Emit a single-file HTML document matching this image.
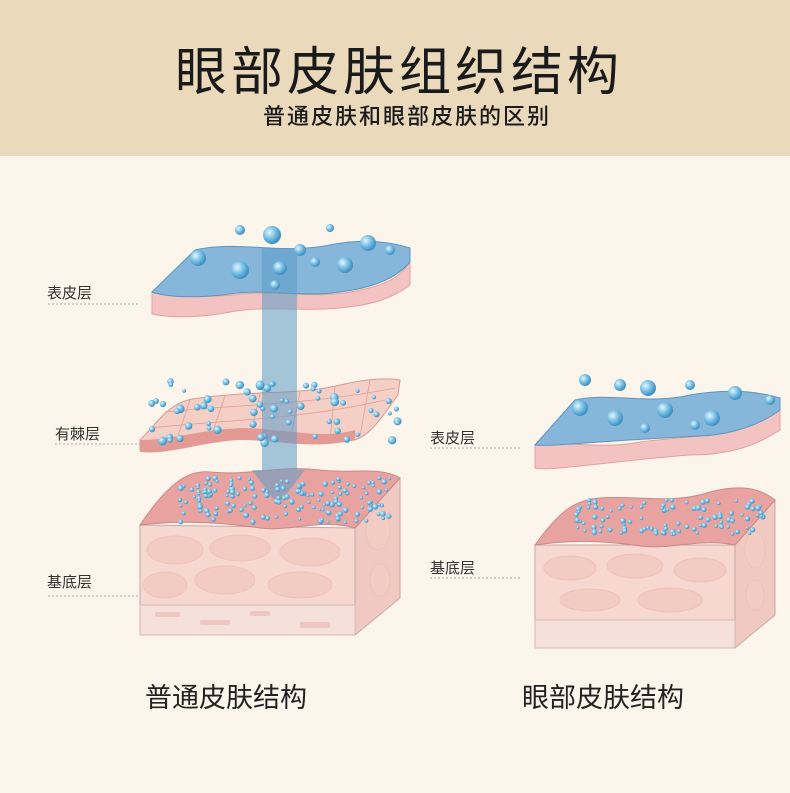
<!DOCTYPE html>
<html><head><meta charset="utf-8"><style>
body{margin:0;width:790px;height:793px;overflow:hidden;background:#fcf5ec;font-family:"Liberation Sans","Noto Sans CJK SC",sans-serif;}
.hdr{position:absolute;left:0;top:0;width:790px;height:156px;background:#ead9bb;}
.t{position:absolute;width:790px;text-align:center;color:#1a1a1a;}
.lb{position:absolute;font-size:15px;color:#333;}
</style></head><body>
<div class="hdr"></div>
<div class="t" style="top:30px;font-size:52px;letter-spacing:4px;left:4px;">眼部皮肤组织结构</div>
<div class="t" style="top:99px;font-size:22px;letter-spacing:2px;left:12px;font-weight:500;">普通皮肤和眼部皮肤的区别</div>
<svg id="s" width="790" height="793" style="position:absolute;left:0;top:0">
<defs>
<radialGradient id="b" cx="35%" cy="35%" r="65%"><stop offset="0" stop-color="#e6f6ff"/><stop offset="0.5" stop-color="#7cc3e6"/><stop offset="1" stop-color="#3f8fc2"/></radialGradient>
</defs>
<g stroke="#aaa" stroke-dasharray="2,2" stroke-width="1">
<line x1="48" y1="304" x2="140" y2="304"/><line x1="55" y1="444" x2="140" y2="444"/><line x1="48" y1="596" x2="140" y2="596"/>
<line x1="430" y1="448" x2="520" y2="448"/><line x1="430" y1="578" x2="520" y2="578"/>
</g>
<path d="M355,528 L400,478 L400,598 L355,635 Z" fill="#efc9c2" stroke="#c9a8a6"/>
<path d="M140,525 L140,635 L355,635 L355,528 Z" fill="#f7d8d0" stroke="#c9a8a6"/>
<g fill="#f2cbc3" stroke="#efc2ba">
<ellipse cx="175" cy="550" rx="28" ry="14"/><ellipse cx="240" cy="548" rx="30" ry="13"/><ellipse cx="310" cy="552" rx="30" ry="14"/>
<ellipse cx="165" cy="585" rx="22" ry="13"/><ellipse cx="225" cy="580" rx="30" ry="14"/><ellipse cx="300" cy="585" rx="32" ry="13"/>
<ellipse cx="378" cy="530" rx="12" ry="20"/><ellipse cx="380" cy="580" rx="10" ry="16"/>
</g>
<rect x="140" y="605" width="215" height="30" fill="#f5e0da" stroke="#d8b9b5"/>
<g fill="#eec7c0"><rect x="155" y="612" width="25" height="5" rx="2"/><rect x="200" y="620" width="30" height="5" rx="2"/><rect x="250" y="611" width="20" height="5" rx="2"/><rect x="300" y="622" width="30" height="6" rx="2"/></g>
<path d="M140,525 C170,480 190,470 210,472 C250,476 280,465 320,470 C350,474 380,466 400,478 L355,528 C320,518 290,532 260,528 C220,522 180,520 140,525 Z" fill="#e8a3a0" stroke="#c98a88"/>
<path d="M140,440 C160,420 170,400 200,398 C260,390 300,395 340,385 C370,378 390,378 400,380 L398,395 C380,420 370,435 355,440 C310,445 280,438 240,438 C200,440 170,452 140,450 Z" fill="#f4cfc6" stroke="#d99a92"/>
<g stroke="#e39e96" stroke-width="0.8" fill="none">
<path d="M150,428 C220,420 300,420 385,400"/><path d="M165,412 C230,405 310,405 395,388"/>
<path d="M190,400 L175,445"/><path d="M225,396 L210,440"/><path d="M260,394 L250,438"/><path d="M300,392 L290,440"/><path d="M335,386 L330,440"/><path d="M370,380 L360,436"/>
</g>
<path d="M140,440 C170,440 200,430 240,428 C280,428 320,440 355,430 L355,440 C310,450 280,440 240,440 C200,442 170,455 140,452 Z" fill="#e49a94"/>
<path d="M152,292 C170,290 200,300 240,294 C280,290 320,300 360,290 C385,285 400,278 410,262 L410,285 C390,300 370,305 340,308 C300,312 270,305 230,312 C200,318 170,318 152,314 Z" fill="#f2c3c0" stroke="#e3a1a0"/>
<path d="M152,292 L195,250 C240,240 280,255 330,245 C365,238 390,242 410,248 L410,262 C395,280 370,288 340,292 C300,298 270,288 230,294 C200,298 170,298 152,292 Z" fill="#86b7da" stroke="#5f95c0"/>
<path d="M262,248 L297,248 L297,470 L305,470 L278,505 L252,470 L262,470 Z" fill="#5b9cc8" opacity="0.55"/>
<path d="M735,545 L775,500 L775,615 L735,648 Z" fill="#efc9c2" stroke="#c9a8a6"/>
<path d="M535,545 L535,648 L735,648 L735,545 Z" fill="#f7d8d0" stroke="#c9a8a6"/>
<g fill="#f2cbc3" stroke="#efc2ba">
<ellipse cx="570" cy="568" rx="26" ry="12"/><ellipse cx="635" cy="566" rx="28" ry="12"/><ellipse cx="700" cy="570" rx="26" ry="12"/>
<ellipse cx="590" cy="600" rx="30" ry="11"/><ellipse cx="670" cy="600" rx="32" ry="12"/><ellipse cx="755" cy="550" rx="10" ry="18"/><ellipse cx="755" cy="595" rx="9" ry="15"/>
</g>
<rect x="535" y="620" width="200" height="28" fill="#f5e0da" stroke="#d8b9b5"/>
<path d="M535,545 C560,510 575,500 600,498 C640,495 670,505 710,492 C740,484 760,488 775,500 L735,545 C700,538 670,550 640,546 C600,540 570,540 535,545 Z" fill="#e8a3a0" stroke="#c98a88"/>
<path d="M535,445 C560,440 600,450 640,442 C690,435 730,440 780,410 L780,430 C750,450 720,455 690,455 C650,458 620,462 580,466 C560,468 545,470 535,468 Z" fill="#f2c3c0" stroke="#e3a1a0"/>
<path d="M535,445 L575,400 C610,392 650,405 690,395 C730,388 760,392 780,398 L780,410 C760,425 730,435 700,436 C660,438 630,440 600,442 C570,444 550,446 535,445 Z" fill="#86b7da" stroke="#5f95c0"/>
<g id="bub"></g>
</svg>
<div class="lb" style="left:47px;top:282px">表皮层</div>
<div class="lb" style="left:55px;top:423px">有棘层</div>
<div class="lb" style="left:47px;top:571px">基底层</div>
<div class="lb" style="left:430px;top:427px">表皮层</div>
<div class="lb" style="left:430px;top:557px">基底层</div>
<div style="position:absolute;left:145px;top:676px;font-size:27px;color:#222">普通皮肤结构</div>
<div style="position:absolute;left:522px;top:676px;font-size:27px;color:#222">眼部皮肤结构</div>
<script>
var g=document.getElementById('bub'),seed=7;function r(){seed=(seed*9301+49297)%233280;return seed/233280;}
function c(x,y,rad){var e=document.createElementNS('http://www.w3.org/2000/svg','circle');e.setAttribute('cx',x);e.setAttribute('cy',y);e.setAttribute('r',rad);e.setAttribute('fill','url(#b)');g.appendChild(e);}
[[240,230,5],[272,235,9],[330,228,4],[368,243,8],[390,250,5],[198,258,8],[240,270,9],[280,268,7],[345,265,8],[300,250,6],[275,285,5],[315,262,5]].forEach(function(a){c(a[0],a[1],a[2]);});
[[585,380,6],[620,385,6],[648,388,8],[690,385,5],[735,393,7],[770,400,5],[580,408,8],[615,418,8],[665,410,8],[712,418,8],[645,428,5],[695,425,5]].forEach(function(a){c(a[0],a[1],a[2]);});
for(var i=0;i<70;i++)c(150+r()*250,380+r()*65,2+r()*2.5);
for(var i=0;i<160;i++)c(180+r()*210,478+r()*45,1.5+r()*1.5);
for(var i=0;i<110;i++)c(575+r()*190,500+r()*35,1.5+r()*1.3);
</script>
</body></html>
